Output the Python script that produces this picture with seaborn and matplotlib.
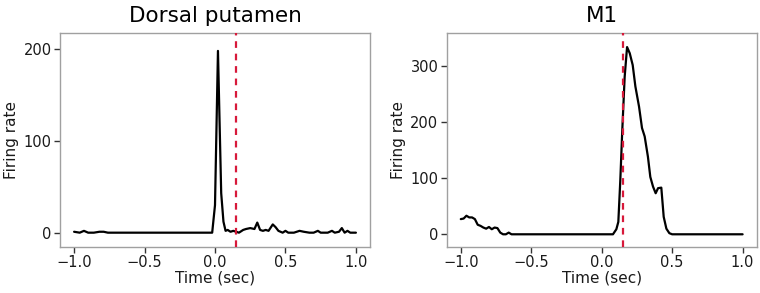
import numpy as np
import pandas as pd
import matplotlib
matplotlib.use("Agg")
import matplotlib.pyplot as plt
import seaborn as sns

# ---- data ----
titles = ["Dorsal putamen", "M1"]

put_time = [-1.00, -0.96, -0.93, -0.90, -0.86, -0.82, -0.79, -0.76, -0.70, -0.60, -0.50,
            -0.40, -0.30, -0.20, -0.10, -0.02, 0.00, 0.021, 0.044, 0.060, 0.075,
            0.09, 0.11, 0.13, 0.15, 0.17, 0.20, 0.22, 0.25, 0.28, 0.30, 0.32, 0.34,
            0.36, 0.38, 0.41, 0.43, 0.45, 0.48, 0.50, 0.52, 0.56, 0.60, 0.63, 0.67,
            0.70, 0.73, 0.75, 0.80, 0.83, 0.85, 0.88, 0.90, 0.92, 0.94, 0.96, 0.98, 1.00]
put_rate = [1, 0, 2, 0, 0, 1, 1, 0, 0, 0, 0,
            0, 0, 0, 0, 0, 30, 198, 43, 12, 2,
            3, 1, 2, 1, 0, 3, 4, 5, 4, 11, 3, 2,
            3, 2, 9, 6, 2, 0, 2, 0, 0, 2, 1, 0,
            0, 2, 0, 0, 2, 0, 1, 5, 0, 2, 0, 0, 0]

m1_time = [-1.00, -0.98, -0.96, -0.94, -0.92, -0.90, -0.88, -0.86, -0.84, -0.82, -0.80,
           -0.78, -0.76, -0.74, -0.72, -0.70, -0.68, -0.66, -0.64, -0.50, -0.30, -0.10,
           0.00, 0.08, 0.104, 0.118, 0.132, 0.146, 0.163, 0.180, 0.199, 0.220, 0.239,
           0.265, 0.286, 0.305, 0.328, 0.345, 0.364, 0.383, 0.400, 0.423, 0.440, 0.459,
           0.480, 0.50, 0.60, 0.80, 1.00]
m1_rate = [27, 28, 33, 30, 30, 27, 17, 15, 12, 10, 13,
           9, 12, 11, 3, 0, 0, 3, 0, 0, 0, 0,
           0, 0, 9, 22, 96, 185, 280, 333, 322, 301, 263,
           227, 189, 174, 138, 102, 85, 73, 82, 83, 31, 10,
           2, 0, 0, 0, 0]

event_time = 0.15
x_ticks = [-1.0, -0.5, 0.0, 0.5, 1.0]
x_tick_labels = ["\u22121.0", "\u22120.5", "0.0", "0.5", "1.0"]
y_ticks = [[0, 100, 200], [0, 100, 200, 300]]
y_limits = [(-15.6, 217.5), (-22.6, 358)]

frames = [pd.DataFrame({"time": put_time, "rate": put_rate}),
          pd.DataFrame({"time": m1_time, "rate": m1_rate})]

sns.set_theme(style="white")
plt.rcParams["font.family"] = ["DejaVu Sans"]

fig = plt.figure(figsize=(7.6, 2.93), dpi=100)
positions = [[60/760, 46/293, 310/760, 214/293],
             [446.7/760, 46/293, 310/760, 214/293]]

for i in range(2):
    ax = fig.add_axes(positions[i])
    sns.lineplot(data=frames[i], x="time", y="rate", ax=ax, color="black",
                 linewidth=1.6, zorder=2)
    ax.axvline(event_time, color="#d7193a", linestyle=(0, (3.0, 2.6)),
               linewidth=1.6, zorder=3)
    ax.set_xlim(-1.1, 1.1)
    ax.set_ylim(*y_limits[i])
    ax.set_xticks(x_ticks)
    ax.set_xticklabels(x_tick_labels)
    ax.set_yticks(y_ticks[i])
    ax.set_xlabel("Time (sec)", fontsize=11, color="#1a1a1a", labelpad=0)
    ax.set_ylabel("Firing rate", fontsize=11, color="#1a1a1a", labelpad=3)
    ax.set_title(titles[i], fontsize=15.5, color="black", pad=8)
    ax.tick_params(axis="both", which="major", length=4, width=1,
                   color="#333333", labelsize=10.5, labelcolor="#1a1a1a",
                   bottom=True, left=True, pad=2)
    for s in ax.spines.values():
        s.set_color("#a0a0a0")
        s.set_linewidth(1)
    ax.grid(False)

fig.savefig("out.png", dpi=100, facecolor="white")
